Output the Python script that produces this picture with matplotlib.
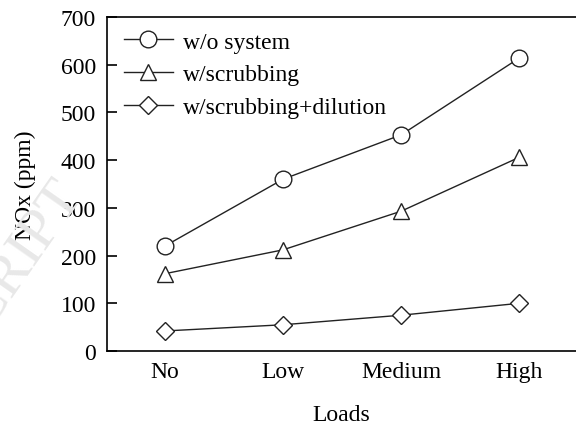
import numpy as np
import matplotlib.pyplot as plt

plt.rcParams['font.family'] = ['Liberation Serif', 'DejaVu Serif']

loads = ['No', 'Low', 'Medium', 'High']
nox_none = [220, 360, 453, 614]
nox_scrub = [162, 212, 293, 406]
nox_dilute = [42, 55, 75, 100]

x = np.arange(len(loads))

fig = plt.figure(figsize=(5.76, 4.27), dpi=100)
ax = fig.add_axes([107/576, 75/427, (576-107)/576, (352-18)/427])

# faint watermark behind the plot
fig.text(0.125, 0.56, 'ACCEPTED MANUSCRIPT', fontsize=42, color='#e8e8e8',
         rotation=55, rotation_mode='anchor', ha='right', va='center', zorder=0)

style = dict(color='#222222', lw=1.0, markersize=12, markerfacecolor='white',
             markeredgecolor='#222222', markeredgewidth=1.0)
ax.plot(x, nox_none, marker='o', label='w/o system', **style)
ax.plot(x, nox_scrub, marker='^', label='w/scrubbing', **style)
ax.plot(x, nox_dilute, marker='D', label='w/scrubbing+dilution',
        **{**style, 'markersize': 9})

ax.set_xlim(-0.49, 3.48)
ax.set_ylim(0, 700)
ax.set_yticks(np.arange(0, 701, 100))
ax.set_xticks(x)
ax.set_xticklabels(loads)
ax.tick_params(axis='y', direction='in', length=7, width=1.2, labelsize=17, pad=8)
ax.tick_params(axis='x', length=0, labelsize=17, pad=7)
for s in ['left', 'top', 'bottom']:
    ax.spines[s].set_linewidth(1.2)
ax.spines['right'].set_visible(False)
ax.patch.set_alpha(0)

ax.set_xlabel('Loads', fontsize=17, labelpad=16)
ax.set_ylabel('NOx (ppm)', fontsize=17, labelpad=18)

ax.legend(loc='upper left', frameon=False, fontsize=17, handlelength=2.1,
          handletextpad=0.4, labelspacing=0.47, borderaxespad=0.2,
          bbox_to_anchor=(0.005, 1.0))

fig.savefig('out.png', dpi=100)
